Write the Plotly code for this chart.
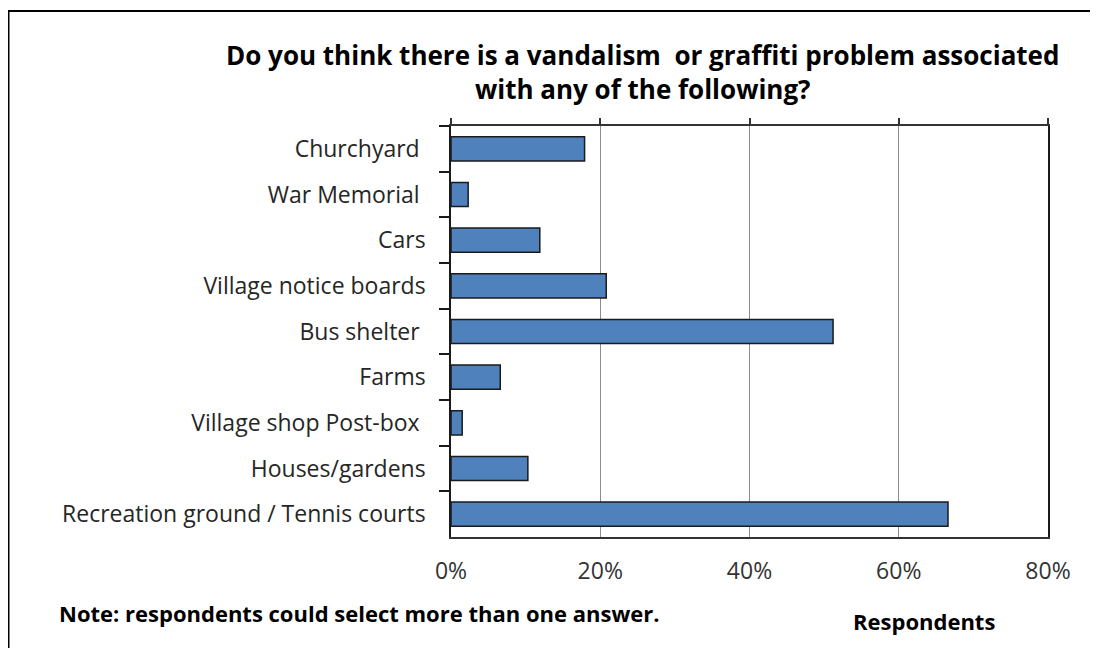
import plotly.graph_objects as go

categories = [
    "Churchyard ",
    "War Memorial ",
    "Cars",
    "Village notice boards",
    "Bus shelter ",
    "Farms",
    "Village shop Post-box ",
    "Houses/gardens",
    "Recreation ground / Tennis courts",
]
values = [0.179, 0.023, 0.119, 0.208, 0.512, 0.066, 0.015, 0.103, 0.666]
x_ticks = [0, 0.2, 0.4, 0.6, 0.8]
x_tick_labels = ["0%", "20%", "40%", "60%", "80%"]

title_text = "Do you think there is a vandalism  or graffiti problem associated<br>with any of the following?"
note_text = "Note: respondents could select more than one answer."
axis_title = "Respondents"

FONT = "Open Sans"
OFF = 8  # page body margin
W, H = 1090, 640
L, R, T, B = 451 - OFF, 1098 - 1048, 126 - OFF, 648 - 537
pw, ph = W - L - R, H - T - B

def px(x):
    return (x - OFF - L) / pw

def py(y):
    return (H - B - (y - OFF)) / ph

fig = go.Figure()
fig.add_trace(go.Bar(
    y=categories, x=values, orientation="h",
    marker=dict(color="#4F81BD", line=dict(color="#1a1a1a", width=1.5)),
    hoverinfo="x+y", showlegend=False,
))
fig.add_trace(go.Bar(
    y=categories, x=values, orientation="h", xaxis="x2",
    marker=dict(color="rgba(0,0,0,0)", line=dict(width=0)),
    hoverinfo="skip", showlegend=False,
))

fig.update_layout(
    width=W, height=H,
    margin=dict(l=L, r=R, t=T, b=B, autoexpand=False),
    paper_bgcolor="white", plot_bgcolor="white",
    bargap=0.47,
    font=dict(family=FONT, color="#262626", size=23),
    xaxis=dict(
        range=[0, 0.8], tickvals=x_ticks, ticktext=x_tick_labels,
        showgrid=True, gridcolor="#8c8c8c", gridwidth=1,
        showline=True, linecolor="#333333", linewidth=1.5, mirror=True,
        ticks="", ticklabelstandoff=13, zeroline=False,
        tickfont=dict(size=23, color="#333333"),
    ),
    xaxis2=dict(
        range=[0, 0.8], tickvals=x_ticks, overlaying="x", side="top",
        ticks="outside", ticklen=7, tickcolor="#333333", tickwidth=1.5,
        showticklabels=False, showgrid=False, showline=False, zeroline=False,
    ),
    yaxis=dict(
        categoryorder="array", categoryarray=categories, autorange="reversed",
        showline=True, linecolor="#1a1a1a", linewidth=1.5, mirror=True,
        ticks="outside", tickson="boundaries", ticklen=10, tickcolor="#1a1a1a", tickwidth=1.5,
        ticklabelstandoff=19, showgrid=False,
        tickfont=dict(size=23, color="#262626"),
    ),
    shapes=[dict(
        type="rect", xref="paper", yref="paper",
        x0=px(8.5), x1=px(1120), y0=py(680), y1=py(11),
        line=dict(color="black", width=2), fillcolor="rgba(0,0,0,0)",
    )],
    annotations=[
        dict(text="<b>" + title_text + "</b>", xref="paper", yref="paper",
             x=px(642), y=py(72), xanchor="center", yanchor="middle",
             showarrow=False, font=dict(size=26, color="black", family=FONT),
             align="center"),
        dict(text="<b>" + note_text + "</b>", xref="paper", yref="paper",
             x=px(57), y=py(613), xanchor="left", yanchor="middle",
             showarrow=False, font=dict(size=22, color="black", family=FONT)),
        dict(text="<b>" + axis_title + "</b>", xref="paper", yref="paper",
             x=px(924), y=py(621), xanchor="center", yanchor="middle",
             showarrow=False, font=dict(size=22, color="black", family=FONT)),
    ],
)

fig.write_html("out.html")
